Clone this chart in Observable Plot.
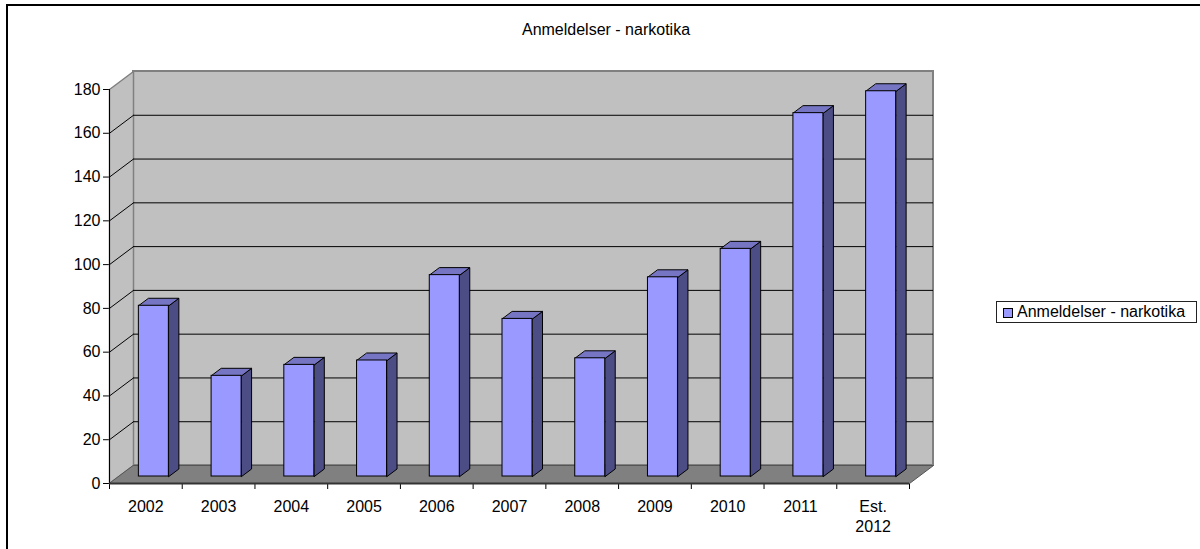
<!DOCTYPE html>
<html>
<head>
<meta charset="utf-8">
<script src="https://cdn.jsdelivr.net/npm/d3@7"></script>
<script src="https://cdn.jsdelivr.net/npm/@observablehq/plot@0.6"></script>
<style>
  html, body { margin: 0; padding: 0; background: #fff; overflow: hidden; width: 1200px; height: 549px; }
  body { position: relative; font-family: "Liberation Sans", Arial, sans-serif; }
  #frame { position: absolute; left: 6px; top: 4px; width: 1300px; height: 700px; border: 2px solid #000; box-sizing: border-box; }
  #title { position: absolute; left: 0; top: 22px; width: 1212px; text-align: center; font-size: 16px; line-height: 16px; color: #000; }
  #chart { position: absolute; left: 0; top: 0; }
  #legend { position: absolute; left: 996px; top: 301px; width: 199px; height: 20px; border: 1px solid #222; background: #fff; font-size: 16px; line-height: 20px; color: #000; }
  #legend .sw { position: absolute; left: 6px; top: 6px; width: 8px; height: 8px; border: 1px solid #000; background: #9999FF; }
  #legend .lb { position: absolute; left: 20px; top: 0; white-space: nowrap; }
</style>
</head>
<body>
<div id="frame"></div>
<div id="chart"></div>
<div id="title">Anmeldelser - narkotika</div>
<div id="legend"><span class="sw"></span><span class="lb">Anmeldelser - narkotika</span></div>
<script>
// ---- data ----
const categories = ["2002", "2003", "2004", "2005", "2006", "2007", "2008", "2009", "2010", "2011", "Est.\n2012"];
const values = [78, 46, 51, 53, 92, 72, 54, 91, 104, 166, 176];
const seriesName = "Anmeldelser - narkotika";
const yTickValues = [0, 20, 40, 60, 80, 100, 120, 140, 160, 180];

// ---- layout / style ----
const W = 1200, H = 549;
const mL = 109, mR = 291, mT = 89, mB = 66;
const yMax = 180;
const n = categories.length;
const kx = (W - mL - mR) / n;       // px per category unit
const ky = (H - mT - mB) / yMax;    // px per value unit
const wallDX = 24, wallDY = 18;     // wall depth in px
const barW = 30, barDX = 10, barDY = 7.5, barOffX = 8, barOffY = -7;
const wx = wallDX / kx, wy = wallDY / ky;
const bw = barW / kx, bdx = barDX / kx, bdy = barDY / ky;

const colFront = "#9999FF", colSide = "#4D4D85", colTop = "#7575C4";
const colWall = "#C0C0C0", colFloor = "#808080";

const bars = categories.map((c, i) => ({cat: c, i, v: values[i], xl: i + 0.5 - bw / 2, xr: i + 0.5 + bw / 2}));

const sideRows = bars.flatMap(b => [
  {id: b.i, x: b.xr, y: 0},
  {id: b.i, x: b.xr + bdx, y: bdy},
  {id: b.i, x: b.xr + bdx, y: b.v + bdy},
  {id: b.i, x: b.xr, y: b.v}
]);
const topRows = bars.flatMap(b => [
  {id: b.i, x: b.xl, y: b.v},
  {id: b.i, x: b.xr, y: b.v},
  {id: b.i, x: b.xr + bdx, y: b.v + bdy},
  {id: b.i, x: b.xl + bdx, y: b.v + bdy}
]);
const sideWall = [
  {x: 0, y: 0}, {x: 0, y: yMax}, {x: wx, y: yMax + wy}, {x: wx, y: wy}
];
const floor = [
  {x: 0, y: 0}, {x: n, y: 0}, {x: n + wx, y: wy}, {x: wx, y: wy}
];
const gridVals = yTickValues.filter(v => v > 0 && v < yMax);
const bounds = d3.range(n + 1);

const chart = Plot.plot({
  width: W, height: H,
  marginLeft: mL, marginRight: mR, marginTop: mT, marginBottom: mB,
  style: {fontSize: "16px", fontFamily: "'Liberation Sans', Arial, sans-serif", color: "#000", background: "transparent", overflow: "visible"},
  x: {domain: [0, n], ticks: bounds, tickFormat: () => "", tickSize: 6, label: null},
  y: {domain: [0, yMax], ticks: yTickValues, tickSize: 6, tickPadding: 3, label: null},
  marks: [
    // back wall
    Plot.rect([0], {x1: 0, x2: n, y1: 0, y2: yMax, dx: wallDX, dy: -wallDY, fill: colWall, stroke: colFloor, strokeWidth: 2}),
    // side wall
    Plot.line(sideWall, {x: "x", y: "y", curve: "linear-closed", fill: colWall, stroke: colFloor, strokeWidth: 1.5, strokeLinejoin: "miter"}),
    // floor
    Plot.line(floor, {x: "x", y: "y", curve: "linear-closed", fill: colFloor, stroke: "#555", strokeWidth: 1, strokeLinejoin: "miter"}),
    // gridlines on back wall and side wall
    Plot.ruleY(gridVals, {x1: 0, x2: n, dx: wallDX, dy: -wallDY, stroke: "#000", strokeWidth: 1}),
    Plot.link(gridVals, {x1: 0, y1: d => d, x2: wx, y2: d => d + wy, stroke: "#000", strokeWidth: 1}),
    // bars
    Plot.line(sideRows, {x: "x", y: "y", z: "id", curve: "linear-closed", fill: colSide, stroke: "#000", strokeWidth: 1, strokeLinejoin: "miter", dx: barOffX, dy: barOffY}),
    Plot.line(topRows, {x: "x", y: "y", z: "id", curve: "linear-closed", fill: colTop, stroke: "#000", strokeWidth: 1, strokeLinejoin: "miter", dx: barOffX, dy: barOffY}),
    Plot.rect(bars, {x1: "xl", x2: "xr", y1: 0, y2: "v", fill: colFront, stroke: "#000", strokeWidth: 1, dx: barOffX, dy: barOffY}),
    // front axis lines
    Plot.ruleX([0], {stroke: "#000", strokeWidth: 1}),
    Plot.ruleY([0], {stroke: "#333", strokeWidth: 2}),
    // category labels
    Plot.text(bars, {x: d => d.i + 0.5, y: 0, text: "cat", lineAnchor: "top", dy: 14, lineHeight: 1.25, fontSize: 16, fill: "#000"})
  ]
});
document.getElementById("chart").appendChild(chart);
</script>
</body>
</html>
